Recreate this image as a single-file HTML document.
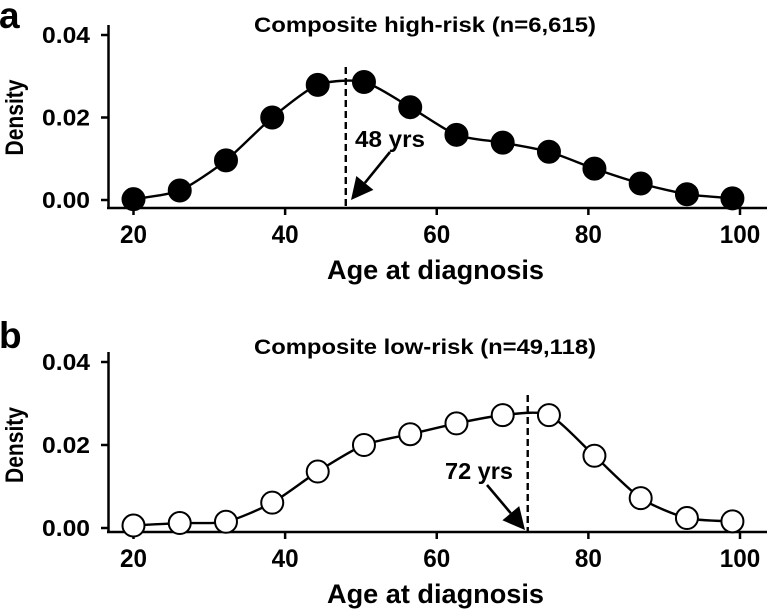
<!DOCTYPE html>
<html><head><meta charset="utf-8"><style>
html,body{margin:0;padding:0;background:#fff;}
svg text{font-family:"Liberation Sans",Arial,sans-serif;font-weight:bold;fill:#000;}
</style></head><body>
<svg id="fig" width="767" height="611" viewBox="0 0 767 611" xmlns="http://www.w3.org/2000/svg"></svg>
<script>
const ages = [20,26.1,32.2,38.3,44.3,50.4,56.5,62.6,68.7,74.8,80.8,86.9,93,99];
const highRisk = [0.0002,0.0023,0.0096,0.0200,0.0279,0.0286,0.0225,0.0158,0.0139,0.0117,0.0076,0.0040,0.0014,0.0004];
const lowRisk = [0.0006,0.0012,0.0015,0.0061,0.0136,0.0200,0.0226,0.0252,0.0272,0.0272,0.0174,0.0072,0.0024,0.0016];
const xTicks = [20,40,60,80,100];
const yTicks = [0,0.02,0.04];
const yTickLabels = ["0.00","0.02","0.04"];
const medians = [48,72];

const NS="http://www.w3.org/2000/svg";
const svg=document.getElementById('fig');
function mk(tag,attrs,parent){const e=document.createElementNS(NS,tag);for(const k in attrs)e.setAttribute(k,attrs[k]);(parent||svg).appendChild(e);return e;}
function xs(a){return 133.5+(a-20)*(740-133.5)/80;}

function panel(cfg){
  const g=mk('g',{});
  
  
  const y0=cfg.y0, yTop=cfg.yTop;
  const ys=v=>y0-(v/0.04)*(y0-yTop);
  const t=mk('text',{x:-1,y:cfg.letterY,'font-size':37},g);t.textContent=cfg.letter;
  
  const tt=mk('text',{x:254,y:cfg.titleY,'font-size':21,textLength:342,lengthAdjust:'spacingAndGlyphs'},g);tt.textContent=cfg.title;
  
  const ya=mk('line',{x1:108.5,x2:108.5,y1:yTop-10,y2:cfg.axisY,stroke:'#000','stroke-width':2.5},g);
  
  const xa=mk('line',{x1:107,x2:767,y1:cfg.axisY,y2:cfg.axisY,stroke:'#000','stroke-width':2.5},g);
  
  yTicks.forEach((v,i)=>{
    const y=ys(v);
    const l=mk('line',{x1:101,x2:108,y1:y,y2:y,stroke:'#000','stroke-width':2.5},g);
    
    const tx=mk('text',{x:42,y:y+8,'font-size':23,textLength:48,lengthAdjust:'spacingAndGlyphs'},g);tx.textContent=yTickLabels[i];
    
  });
  xTicks.forEach(v=>{
    const x=xs(v);
    const l=mk('line',{x1:x,x2:x,y1:cfg.axisY,y2:cfg.axisY+7,stroke:'#000','stroke-width':2.5},g);
    
    const w=String(v).length*13.5;
    const tx=mk('text',{x:x-w/2,y:cfg.axisY+35,'font-size':25,textLength:w,lengthAdjust:'spacingAndGlyphs'},g);tx.textContent=String(v);
    
  });
  const xt=mk('text',{x:327,y:cfg.axisY+71,'font-size':27,textLength:217,lengthAdjust:'spacingAndGlyphs'},g);xt.textContent='Age at diagnosis';
  
  const yc=(y0+yTop)/2;
  const yt=mk('text',{x:0,y:0,'font-size':25,'text-anchor':'middle',textLength:76,lengthAdjust:'spacingAndGlyphs',transform:`translate(23,${yc}) rotate(-90)`},g);yt.textContent='Density';
  
  const pts=ages.map((a,i)=>[xs(a),ys(cfg.data[i])]);
  let d=`M${pts[0][0]},${pts[0][1]}`;
  for(let i=0;i<pts.length-1;i++){
    const p0=pts[Math.max(0,i-1)],p1=pts[i],p2=pts[i+1],p3=pts[Math.min(pts.length-1,i+2)];
    const k=0.12;
    d+=` C${p1[0]+(p2[0]-p0[0])*k},${p1[1]+(p2[1]-p0[1])*k} ${p2[0]-(p3[0]-p1[0])*k},${p2[1]-(p3[1]-p1[1])*k} ${p2[0]},${p2[1]}`;
  }
  const path=mk('path',{d:d,fill:'none',stroke:'#000','stroke-width':2.4},g);
  
  const mx=xs(cfg.median);
  const ml=mk('line',{x1:mx,x2:mx,y1:cfg.dashTop,y2:cfg.axisY,stroke:'#000','stroke-width':2.4,'stroke-dasharray':'7,4'},g);
  
  const [ax,ay,bx,by]=cfg.arrow;
  const ang=Math.atan2(by-ay,bx-ax),L=22,W=11;
  const bxs=bx-L*Math.cos(ang),bys=by-L*Math.sin(ang);
  const al=mk('line',{x1:ax,y1:ay,x2:bxs,y2:bys,stroke:'#000','stroke-width':2.6},g);
  
  const ah=mk('polygon',{points:`${bx},${by} ${bxs+W*Math.sin(ang)},${bys-W*Math.cos(ang)} ${bxs-W*Math.sin(ang)},${bys+W*Math.cos(ang)}`,fill:'#000'},g);
  
  const lt=mk('text',{x:cfg.labelX,y:cfg.labelY,'font-size':23,textLength:cfg.labelW,lengthAdjust:'spacingAndGlyphs'},g);lt.textContent=cfg.median+' yrs';
  
  pts.forEach(p=>{
    const c=mk('circle',{cx:p[0],cy:p[1],r:11,fill:cfg.fill,stroke:'#000','stroke-width':2},g);
    
  });
}
panel({name:'panel-a-high-risk',letter:'a',letterY:28,title:'Composite high-risk (n=6,615)',titleY:32,y0:200,yTop:35,axisY:208,data:highRisk,median:medians[0],dashTop:67,arrow:[390,152,351,200],labelX:355,labelY:147,labelW:70,fill:'#000'});
panel({name:'panel-b-low-risk',letter:'b',letterY:348,title:'Composite low-risk (n=49,118)',titleY:354,y0:528,yTop:362,axisY:532,data:lowRisk,median:medians[1],dashTop:395,arrow:[487,485,525,530],labelX:445,labelY:479,labelW:68,fill:'#fff'});
</script>
</body></html>
